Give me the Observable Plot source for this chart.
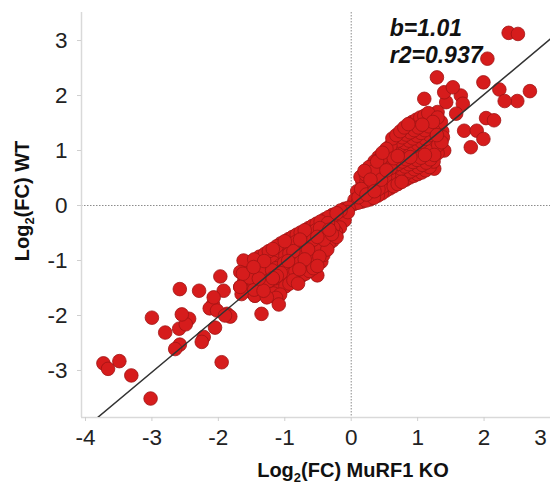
<!DOCTYPE html>
<html><head><meta charset="utf-8">
<script src="https://cdn.jsdelivr.net/npm/d3@7"></script>
<script src="https://cdn.jsdelivr.net/npm/@observablehq/plot@0.6"></script>
<style>body{margin:0;background:#fff} #chart svg{display:block} #chart text.tick-big{font-size:22.5px !important}</style>
</head><body><div id="chart"></div>
<script>
// ---- data ----
const xTicks = [-4, -3, -2, -1, 0, 1, 2];
const xEdgeTick = [3];
const yTicks = [-3, -2, -1, 0, 1, 2, 3];
const xDomain = [-4.06, 3.0];
const yDomain = [-3.855, 3.51];
const slope = 1.01;
const intercept = 0.0;
const fitX = [-4, 3];
const statLabels = ["b=1.01", "r2=0.937"];
const statX = [0.58, 0.58];
const statY = [3.22, 2.72];
const xTitle = "Log2(FC) MuRF1 KO";
const yTitle = "Log2(FC) WT";

// points: [log2FC MuRF1 KO, log2FC WT]
const lowerCluster = [
[-0.04,-0.04],[-0.05,-0.12],
[-0.1,-0.06],[-0.11,-0.17],[-0.1,-0.27],
[-0.16,-0.09],[-0.17,-0.2],[-0.15,-0.31],[-0.17,-0.4],
[-0.22,-0.14],[-0.23,-0.25],[-0.21,-0.36],[-0.23,-0.48],[-0.22,-0.57],
[-0.28,-0.17],[-0.29,-0.28],[-0.27,-0.4],[-0.29,-0.52],[-0.28,-0.64],
[-0.34,-0.21],[-0.35,-0.32],[-0.33,-0.44],[-0.35,-0.57],[-0.34,-0.7],[-0.36,-0.8],
[-0.4,-0.25],[-0.41,-0.36],[-0.39,-0.48],[-0.41,-0.62],[-0.4,-0.76],[-0.42,-0.9],
[-0.46,-0.29],[-0.47,-0.41],[-0.45,-0.53],[-0.47,-0.67],[-0.46,-0.8],[-0.48,-0.93],[-0.45,-1.02],
[-0.52,-0.33],[-0.53,-0.45],[-0.51,-0.57],[-0.53,-0.71],[-0.52,-0.85],[-0.54,-0.98],[-0.51,-1.1],
[-0.58,-0.37],[-0.59,-0.49],[-0.57,-0.62],[-0.59,-0.76],[-0.58,-0.9],[-0.6,-1.03],[-0.57,-1.14],
[-0.64,-0.41],[-0.65,-0.53],[-0.63,-0.66],[-0.65,-0.8],[-0.64,-0.94],[-0.66,-1.08],[-0.63,-1.19],
[-0.7,-0.45],[-0.71,-0.57],[-0.69,-0.7],[-0.71,-0.84],[-0.7,-0.98],[-0.72,-1.12],[-0.69,-1.24],
[-0.76,-0.49],[-0.77,-0.62],[-0.75,-0.75],[-0.77,-0.89],[-0.76,-1.03],[-0.78,-1.16],[-0.75,-1.28],
[-0.82,-0.53],[-0.83,-0.66],[-0.81,-0.79],[-0.83,-0.93],[-0.82,-1.07],[-0.84,-1.2],[-0.81,-1.32],
[-0.88,-0.57],[-0.89,-0.7],[-0.87,-0.83],[-0.89,-0.97],[-0.88,-1.11],[-0.9,-1.25],[-0.87,-1.36],
[-0.94,-0.61],[-0.95,-0.74],[-0.93,-0.87],[-0.95,-1.01],[-0.94,-1.15],[-0.96,-1.29],[-0.93,-1.42],
[-1.0,-0.65],[-1.01,-0.78],[-0.99,-0.91],[-1.01,-1.05],[-1.0,-1.19],[-1.02,-1.33],[-0.99,-1.47],
[-1.06,-0.69],[-1.07,-0.82],[-1.05,-0.95],[-1.07,-1.09],[-1.06,-1.23],[-1.08,-1.37],[-1.05,-1.52],[-1.07,-1.62],
[-1.12,-0.74],[-1.13,-0.87],[-1.11,-1.0],[-1.13,-1.14],[-1.12,-1.28],[-1.14,-1.42],[-1.11,-1.56],[-1.13,-1.68],
[-1.18,-0.79],[-1.19,-0.91],[-1.17,-1.04],[-1.19,-1.18],[-1.18,-1.32],[-1.2,-1.47],[-1.17,-1.6],
[-1.24,-0.83],[-1.25,-0.96],[-1.23,-1.09],[-1.25,-1.23],[-1.24,-1.37],[-1.26,-1.51],[-1.23,-1.6],
[-1.3,-0.88],[-1.31,-1.01],[-1.29,-1.14],[-1.31,-1.28],[-1.3,-1.42],[-1.32,-1.55],
[-1.38,-0.93],[-1.39,-1.06],[-1.37,-1.19],[-1.39,-1.33],[-1.38,-1.47],[-1.4,-1.58],
[-1.46,-0.98],[-1.47,-1.12],[-1.45,-1.25],[-1.47,-1.39],[-1.46,-1.53],[-1.45,-1.64],
[-1.54,-1.03],[-1.55,-1.17],[-1.53,-1.31],[-1.55,-1.45],[-1.57,-1.55],
[-1.62,-1.0],[-1.63,-1.24],[-1.61,-1.38],[-1.65,-1.61],
[-1.67,-1.21],[-1.67,-1.48]
];

const upperCluster = [
[0.04,0.03],[0.05,0.1],
[0.1,0.05],[0.11,0.15],[0.09,0.26],
[0.16,0.07],[0.17,0.18],[0.15,0.3],[0.17,0.42],[0.14,0.52],
[0.22,0.09],[0.23,0.2],[0.21,0.32],[0.23,0.44],[0.22,0.56],[0.2,0.63],
[0.28,0.11],[0.29,0.23],[0.27,0.35],[0.29,0.47],[0.28,0.59],[0.27,0.7],
[0.34,0.14],[0.35,0.26],[0.33,0.38],[0.35,0.5],[0.34,0.62],[0.33,0.74],[0.35,0.8],
[0.4,0.18],[0.41,0.3],[0.39,0.42],[0.41,0.55],[0.4,0.68],[0.39,0.8],[0.41,0.88],
[0.46,0.22],[0.47,0.34],[0.45,0.47],[0.47,0.6],[0.46,0.73],[0.45,0.86],[0.47,0.96],
[0.52,0.27],[0.53,0.38],[0.51,0.51],[0.53,0.64],[0.52,0.78],[0.51,0.92],[0.53,1.03],
[0.58,0.31],[0.59,0.42],[0.57,0.55],[0.59,0.68],[0.58,0.82],[0.57,0.96],[0.59,1.09],
[0.64,0.35],[0.65,0.46],[0.63,0.59],[0.65,0.72],[0.64,0.86],[0.63,1.0],[0.65,1.13],[0.62,1.22],
[0.7,0.39],[0.71,0.5],[0.69,0.63],[0.71,0.76],[0.7,0.9],[0.69,1.04],[0.71,1.18],[0.68,1.28],
[0.76,0.43],[0.77,0.54],[0.75,0.67],[0.77,0.8],[0.76,0.95],[0.75,1.1],[0.77,1.24],[0.74,1.35],
[0.82,0.47],[0.83,0.58],[0.81,0.71],[0.83,0.84],[0.82,0.99],[0.81,1.14],[0.83,1.29],[0.8,1.42],
[0.88,0.51],[0.89,0.62],[0.87,0.75],[0.89,0.88],[0.88,1.03],[0.87,1.18],[0.89,1.33],[0.86,1.48],
[0.94,0.54],[0.95,0.66],[0.93,0.79],[0.95,0.92],[0.94,1.07],[0.93,1.22],[0.95,1.37],[0.92,1.52],
[1.0,0.57],[1.01,0.7],[0.99,0.83],[1.01,0.96],[1.0,1.12],[0.99,1.27],[1.01,1.42],[0.98,1.56],
[1.06,0.6],[1.07,0.74],[1.05,0.87],[1.07,1.0],[1.06,1.16],[1.05,1.32],[1.07,1.47],[1.04,1.6],
[1.12,0.64],[1.13,0.78],[1.11,0.92],[1.13,1.05],[1.12,1.21],[1.11,1.37],[1.13,1.52],[1.1,1.63],
[1.18,0.7],[1.19,0.84],[1.17,0.98],[1.19,1.12],[1.18,1.28],[1.17,1.44],[1.19,1.58],[1.16,1.68],
[1.24,0.8],[1.25,0.92],[1.23,1.05],[1.25,1.2],[1.24,1.36],[1.23,1.52],[1.25,1.65],
[1.3,0.95],[1.31,1.1],[1.29,1.28],[1.31,1.45],[1.3,1.6],
[1.36,1.15],[1.37,1.35],[1.35,1.52]
];

const outliers = [
[2.37,3.14],[2.51,3.12],[2.05,2.67],[1.29,2.33],[1.99,2.24],[2.23,2.11],[2.69,2.08],
[2.31,1.9],[2.5,1.9],[1.1,1.94],[1.4,2.06],[1.53,2.15],[1.65,2.0],[1.68,1.85],[1.58,1.67],
[1.43,1.88],[1.3,1.7],[2.03,1.59],[2.15,1.55],[1.7,1.36],[1.89,1.36],[1.99,1.21],[1.8,1.06],
[1.4,1.0],[1.25,0.67],[1.38,1.24],
[-1.97,-1.29],[-2.58,-1.52],[-2.29,-1.55],[-3.0,-2.04],[-2.55,-1.98],[-2.44,-2.06],[-2.59,-2.24],
[-2.49,-2.16],[-2.8,-2.31],[-2.22,-2.39],[-2.25,-2.48],[-2.65,-2.61],[-2.58,-2.53],[-3.73,-2.87],
[-3.66,-2.97],[-3.49,-2.83],[-3.31,-3.09],[-3.02,-3.51],[-1.95,-2.85],[-2.05,-2.22],[-2.08,-1.8],
[-2.13,-1.87],[-2.02,-1.91],[-2.07,-1.67],[-1.92,-1.55],[-1.87,-1.97],[-1.82,-2.02],[-1.9,-2.0],
[-1.67,-1.48],[-1.35,-1.97],[-1.09,-1.8],[-0.8,-1.42],[-0.51,-1.27],[-1.45,-1.64],[-1.27,-1.67]
];

// ---- build ----
const all = [...upperCluster, ...lowerCluster, ...outliers];
// draw in a scrambled (deterministic) order so overlapping circles look like the original
const n = all.length;
const order = d3.range(n).sort((a, b) => ((a * 97) % n) - ((b * 97) % n));
const points = order.map(i => ({ko: all[i][0], wt: all[i][1]}));
const fit = fitX.map(x => ({x, y: slope * x + intercept}));
const fmt = d => String(d);

const chart = Plot.plot({
  width: 550, height: 485,
  marginTop: 12, marginBottom: 68, marginLeft: 81, marginRight: 0,
  x: {domain: xDomain},
  y: {domain: yDomain},
  style: {fontFamily: "'Liberation Sans', Arial, sans-serif", background: "#fff", color: "#222"},
  marks: [
    Plot.ruleX([0], {stroke: "#8c8c8c", strokeDasharray: "1.5,1.5", strokeWidth: 1}),
    Plot.ruleY([0], {stroke: "#8c8c8c", strokeDasharray: "1.5,1.5", strokeWidth: 1}),
    Plot.ruleX([xDomain[0]], {stroke: "#d9d9d9", strokeWidth: 1.5}),
    Plot.ruleY([yDomain[0]], {stroke: "#d9d9d9", strokeWidth: 1.5}),
    Plot.dot(points, {x: "ko", y: "wt", r: 6.8, fill: "#d61c1c", stroke: "#a01414", strokeWidth: 0.8}),
    Plot.line(fit, {x: "x", y: "y", stroke: "#333", strokeWidth: 1.5, clip: true}),
    Plot.axisX(xTicks, {tickSize: 4, tickPadding: 8, fontSize: 22.5, tickFormat: fmt, stroke: "#cfcfcf", fill: "#222", label: null}),
    Plot.axisX(xEdgeTick, {tickSize: 0, tickPadding: 12, dx: -10, fontSize: 22.5, tickFormat: fmt, fill: "#222", label: null}),
    Plot.axisY(yTicks, {tickSize: 4, tickPadding: 10, fontSize: 22.5, tickFormat: fmt, stroke: "#cfcfcf", fill: "#222", label: null}),
    Plot.text(statLabels, {x: (d, i) => statX[i], y: (d, i) => statY[i], text: d => d,
      textAnchor: "start", lineAnchor: "middle", fontSize: 23, fontWeight: "bold", fontStyle: "italic", fill: "#111"}),
    Plot.text([xTitle], {frameAnchor: "bottom", text: d => d, dx: 37, dy: 53, textAnchor: "middle", lineAnchor: "middle",
      fontSize: 20, fontWeight: "bold", fill: "#111"}),
    Plot.text([yTitle], {frameAnchor: "left", text: d => d, rotate: -90, dx: -59, dy: -14, textAnchor: "middle", lineAnchor: "middle",
      fontSize: 20, fontWeight: "bold", fill: "#111"})
  ]
});
document.getElementById("chart").appendChild(chart);

// make sure tick labels use the reference's large size
d3.select(chart).selectAll("text").filter(function () {
  return /^-?\d$/.test(this.textContent.trim());
}).classed("tick-big", true).attr("font-size", 22.5);

// subscript the "2" of "Log2"
const NS = "http://www.w3.org/2000/svg";
d3.select(chart).selectAll("text").filter(function () {
  return this.textContent === xTitle || this.textContent === yTitle;
}).each(function () {
  const s = this.textContent;
  const rest = s.slice(4);
  this.textContent = "";
  const a = document.createElementNS(NS, "tspan"); a.textContent = "Log"; this.appendChild(a);
  const b = document.createElementNS(NS, "tspan"); b.textContent = "2";
  b.setAttribute("font-size", "13"); b.setAttribute("dy", "5"); this.appendChild(b);
  const c = document.createElementNS(NS, "tspan"); c.textContent = rest; c.setAttribute("dy", "-5"); this.appendChild(c);
});
</script>
</body></html>
